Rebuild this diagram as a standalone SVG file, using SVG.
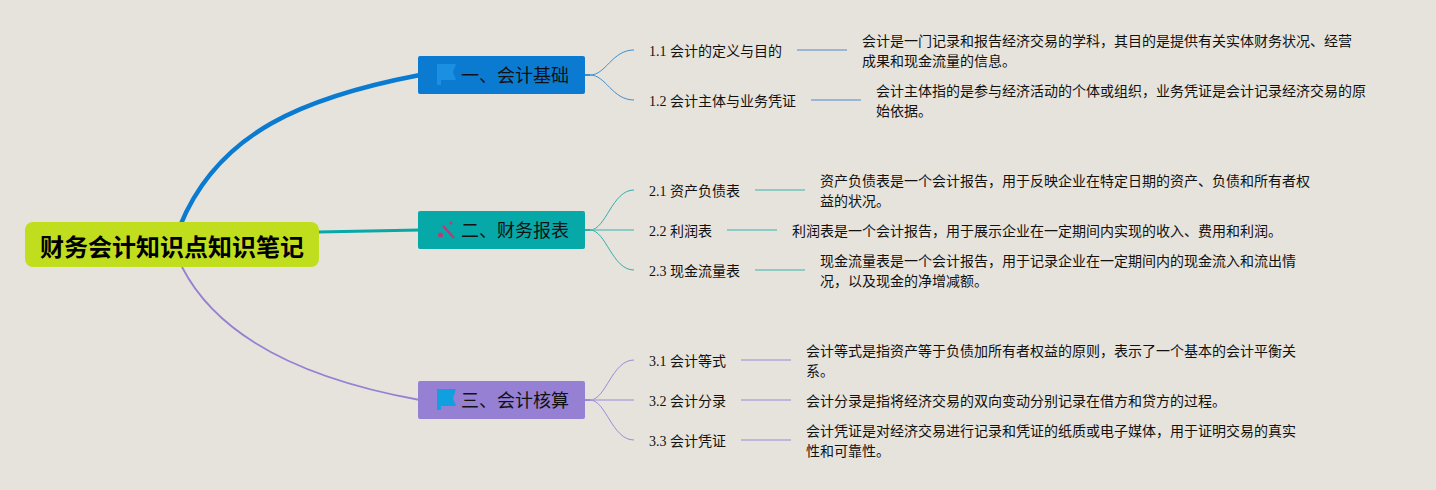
<svg xmlns="http://www.w3.org/2000/svg" width="1436" height="490" viewBox="0 0 1436 490">
<style>
text{font-family:"Liberation Serif","Noto Sans CJK SC",serif;fill:#111}
.root{font-family:"Noto Sans CJK SC",sans-serif;font-size:24px;font-weight:700;fill:#000}
.main{font-family:"Noto Sans CJK SC",sans-serif;font-size:18px}
.t{font-size:14px}
.c{fill:none}
.b1{stroke:#0a7bd1}.b2{stroke:#06a8a8}.b3{stroke:#9580d3}
.s1{stroke:#3f8fcf;stroke-width:1}.s2{stroke:#2fb0ae;stroke-width:1}.s3{stroke:#9c8ad6;stroke-width:1}
.j1{stroke:#3f8fcf;stroke-width:2}.j2{stroke:#2fb0ae;stroke-width:2}.j3{stroke:#9c8ad6;stroke-width:2}
.l1{stroke:#7fa9d0;stroke-width:1.5}.l2{stroke:#72c2be;stroke-width:1.5}.l3{stroke:#b3a6da;stroke-width:1.5}
</style>
<rect width="1436" height="490" fill="#e6e3dc"/>
<g id="connectors" class="c">
<path class="c b1" stroke-width="4.5" d="M180 226C218 132 305 97 420 75"/>
<path class="c b2" stroke-width="3" d="M318 232L420 230"/>
<path class="c b3" stroke-width="1.8" d="M182 267C222 345 320 382 420 400"/>
<g class="c">
<path class="j1" d="M585 75H590"/><path class="j2" d="M585 230H590"/><path class="j3" d="M585 400H590"/>
<path class="s1" d="M590 75C606 75 612 50 634 50"/><path class="s1" d="M590 75C606 75 612 100 634 100"/>
<path class="s2" d="M590 230C606 230 612 190 634 190"/><path class="l2" d="M590 230H634"/><path class="s2" d="M590 230C606 230 612 270 634 270"/>
<path class="s3" d="M590 400C606 400 612 360 634 360"/><path class="l3" d="M590 400H634"/><path class="s3" d="M590 400C606 400 612 440 634 440"/>
<path class="l1" d="M797 50H847"/><path class="l1" d="M811 100H861"/>
<path class="l2" d="M755 190H805"/><path class="l2" d="M727 230H777"/><path class="l2" d="M755 270H805"/>
<path class="l3" d="M741 360H791"/><path class="l3" d="M741 400H791"/><path class="l3" d="M741 440H791"/>
</g>
</g>
<g id="root"><rect x="25" y="222" width="294" height="45" rx="8" fill="#c1de1e"/><text class="root" x="40" y="256">财务会计知识点知识笔记</text></g>
<g id="topic1"><rect x="418" y="56" width="167" height="38" rx="2" fill="#0a7bd1"/><path d="M437 64H456L453 72L456 80H441V85H437Z" fill="#1b90e2"/><text class="main" x="461" y="82">一、会计基础</text></g>
<g id="topic2"><rect x="418" y="211" width="167" height="38" rx="2" fill="#06a8a8"/><path d="M443 226L454 238" stroke="#bb3a78" stroke-width="2.5" fill="none"/><circle cx="440.500" cy="235" r="2.500" fill="#bb3a78"/><circle cx="451" cy="223" r="1.500" fill="#bb3a78"/><text class="main" x="461" y="237">二、财务报表</text></g>
<g id="topic3"><rect x="418" y="381" width="167" height="38" rx="2" fill="#9580d3"/><path d="M437 389H456L453 398L456 406H441V410H437Z" fill="#119fe0"/><text class="main" x="461" y="407">三、会计核算</text></g>
<g id="s11"><text class="t" x="649" y="56">1.1 会计的定义与目的</text></g>
<g id="d11"><text class="t" x="862" y="46">会计是一门记录和报告经济交易的学科，其目的是提供有关实体财务状况、经营</text><text class="t" x="862" y="66">成果和现金流量的信息。</text></g>
<g id="s12"><text class="t" x="649" y="106">1.2 会计主体与业务凭证</text></g>
<g id="d12"><text class="t" x="876" y="96">会计主体指的是参与经济活动的个体或组织，业务凭证是会计记录经济交易的原</text><text class="t" x="876" y="116">始依据。</text></g>
<g id="s21"><text class="t" x="649" y="196">2.1 资产负债表</text></g>
<g id="d21"><text class="t" x="820" y="186">资产负债表是一个会计报告，用于反映企业在特定日期的资产、负债和所有者权</text><text class="t" x="820" y="206">益的状况。</text></g>
<g id="s22"><text class="t" x="649" y="236">2.2 利润表</text></g>
<g id="d22"><text class="t" x="792" y="236">利润表是一个会计报告，用于展示企业在一定期间内实现的收入、费用和利润。</text></g>
<g id="s23"><text class="t" x="649" y="276">2.3 现金流量表</text></g>
<g id="d23"><text class="t" x="820" y="266">现金流量表是一个会计报告，用于记录企业在一定期间内的现金流入和流出情</text><text class="t" x="820" y="286">况，以及现金的净增减额。</text></g>
<g id="s31"><text class="t" x="649" y="366">3.1 会计等式</text></g>
<g id="d31"><text class="t" x="806" y="356">会计等式是指资产等于负债加所有者权益的原则，表示了一个基本的会计平衡关</text><text class="t" x="806" y="376">系。</text></g>
<g id="s32"><text class="t" x="649" y="406">3.2 会计分录</text></g>
<g id="d32"><text class="t" x="806" y="406">会计分录是指将经济交易的双向变动分别记录在借方和贷方的过程。</text></g>
<g id="s33"><text class="t" x="649" y="446">3.3 会计凭证</text></g>
<g id="d33"><text class="t" x="806" y="436">会计凭证是对经济交易进行记录和凭证的纸质或电子媒体，用于证明交易的真实</text><text class="t" x="806" y="456">性和可靠性。</text></g>
</svg>
